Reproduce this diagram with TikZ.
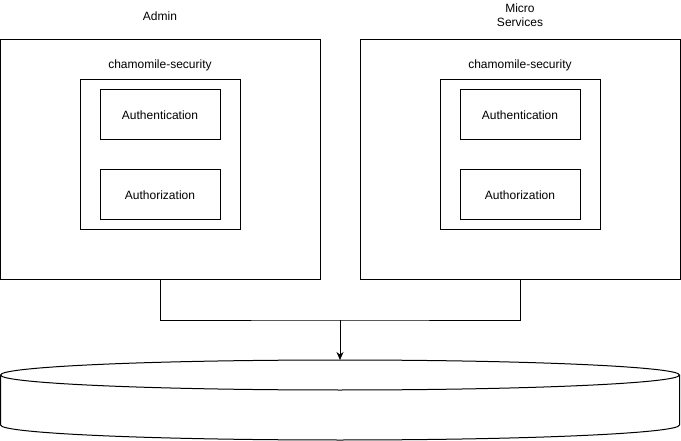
\documentclass[tikz,border=0pt]{standalone}
\usepackage{fontspec}
\setmainfont{Liberation Sans}
\usetikzlibrary{arrows.meta}
\begin{document}
\begin{tikzpicture}[x=1pt,y=-1pt,
  every node/.style={font=\fontsize{12}{14}\selectfont, inner sep=0pt, outer sep=0pt},
  box/.style={draw, line width=1pt, rectangle, fill=white},
  lbl/.style={align=center},
  wire/.style={line width=1pt}]
\useasboundingbox (0,0) rectangle (681,441);
% outer containers
\node[box, minimum width=320pt, minimum height=240pt] (admin) at (160,160) {};
\node[box, minimum width=320pt, minimum height=240pt] (ms) at (520,160) {};
% titles
\node[lbl] (admint) at (160,16) {Admin};
\node[lbl] (mst) at (520,15) {Micro\\Services};
% inner containers
\node[box, minimum width=160pt, minimum height=150pt] (secA) at (160,155) {};
\node[box, minimum width=160pt, minimum height=150pt] (secB) at (520,155) {};
\node[lbl] (secAt) at (160,65) {chamomile-security};
\node[lbl] (secBt) at (520,65) {chamomile-security};
% auth boxes
\node[box, minimum width=120pt, minimum height=50pt] (authnA) at (160,115) {Authentication};
\node[box, minimum width=120pt, minimum height=50pt] (authzA) at (160,195) {Authorization};
\node[box, minimum width=120pt, minimum height=50pt] (authnB) at (520,115) {Authentication};
\node[box, minimum width=120pt, minimum height=50pt] (authzB) at (520,195) {Authorization};
% database cylinder
\draw[line width=1pt, fill=white] (0.5,375) -- (0.5,425) arc[start angle=180, end angle=360, x radius=339.5pt, y radius=15pt] -- (679.5,375);
\draw[line width=1pt, fill=white] (340,375) ellipse [x radius=339.5pt, y radius=15pt];
\coordinate (dbtop) at (340,360);
% connectors
\coordinate (j) at (340,320);
\draw[wire] (admin.south) |- (j) -| (ms.south);
\draw[wire, -{Stealth[length=8pt,width=7pt]}] (j) -- (dbtop);
\end{tikzpicture}
\end{document}
